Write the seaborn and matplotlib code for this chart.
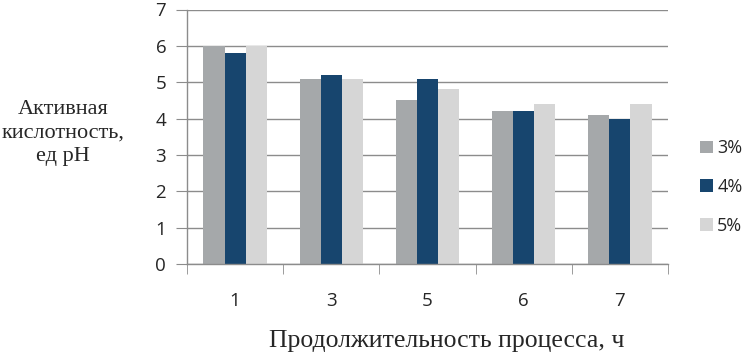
import numpy as np
import pandas as pd
import matplotlib
matplotlib.use('Agg')
import matplotlib.pyplot as plt
import seaborn as sns

# данные
hours = ['1', '3', '5', '6', '7']
series = ['3%', '4%', '5%']
ph_3 = [6.0, 5.1, 4.5, 4.2, 4.1]
ph_4 = [5.8, 5.2, 5.1, 4.2, 4.0]
ph_5 = [6.0, 5.1, 4.8, 4.4, 4.4]
colors = ['#A5A8AA', '#17456E', '#D6D6D6']

df = pd.DataFrame({
    'hour': hours * 3,
    'conc': [s for s in series for _ in hours],
    'ph': ph_3 + ph_4 + ph_5,
})

sns.set_style("white")
plt.rcParams['font.family'] = ['Open Sans', 'DejaVu Sans']

fig = plt.figure(figsize=(7.46, 3.55), dpi=100)
ax = fig.add_axes([187 / 746, 1 - 264 / 355, (668 - 187) / 746, (264 - 9.5) / 355])

sns.barplot(data=df, x='hour', y='ph', hue='conc', order=hours, hue_order=series,
            palette=colors, width=0.66, gap=0, saturation=1, linewidth=0,
            ax=ax, legend=True)

ax.set_ylim(0, 7)
ax.set_xlim(-0.5, len(hours) - 0.5)
ax.set_yticks(range(8))
ax.yaxis.grid(True, color='#8C8C8C', linewidth=1)
ax.set_axisbelow(True)
for s in ['top', 'right']:
    ax.spines[s].set_visible(False)
for s in ['left', 'bottom']:
    ax.spines[s].set_color('#8C8C8C')
    ax.spines[s].set_linewidth(1)

ax.tick_params(axis='y', length=8, color='#8C8C8C', labelsize=13.5, pad=7, left=True)
ax.tick_params(axis='x', which='major', length=0, labelsize=13.5, pad=20)
ax.set_xticks(np.arange(-0.5, len(hours)), minor=True)
ax.tick_params(axis='x', which='minor', length=7, color='#8C8C8C', bottom=True)

ax.set_xlabel('')
ax.set_ylabel('')
fig.text(447 / 746, 1 - 341 / 355, 'Продолжительность процесса, ч',
         family=['Liberation Serif', 'DejaVu Serif'], fontsize=18.5, ha='center', va='center')
fig.text(63 / 746, 1 - 133 / 355, 'Активная\nкислотность,\nед pH',
         family=['Liberation Serif', 'DejaVu Serif'], fontsize=16, ha='center', va='center',
         linespacing=1.3)

handles, labels = ax.get_legend_handles_labels()
ax.legend(handles, labels, loc='center left', bbox_to_anchor=(700 / 746, 1 - 187 / 355),
          bbox_transform=fig.transFigure, frameon=False, fontsize=13,
          handlelength=0.7, handleheight=0.7, handletextpad=0.25, labelspacing=1.15,
          borderpad=0, borderaxespad=0)

fig.savefig('out.png', dpi=100)
